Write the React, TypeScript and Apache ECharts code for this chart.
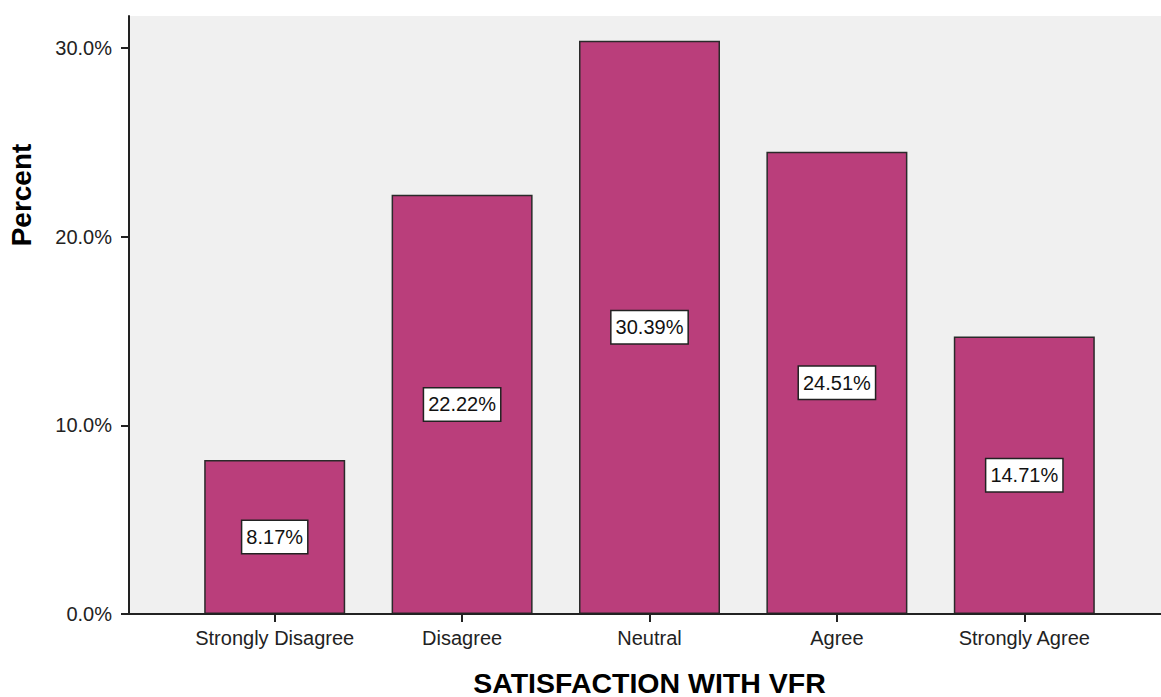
import React, { useEffect, useRef } from "react";
import * as echarts from "echarts";

const categories = ["Strongly Disagree", "Disagree", "Neutral", "Agree", "Strongly Agree"];
const percents = [8.17, 22.22, 30.39, 24.51, 14.71];
const yTicks = [0, 10, 20, 30];

const FONT = "'Liberation Sans', Arial, sans-serif";

export default function App() {
  const ref = useRef<HTMLDivElement>(null);
  useEffect(() => {
    if (!ref.current) return;
    const chart = echarts.init(ref.current, null, { renderer: "svg" });
    chart.setOption({
      animation: false,
      backgroundColor: "#ffffff",
      grid: { left: 181, right: 43, top: 16, bottom: 83, outerBoundsMode: "none", containLabel: false },
      graphic: [
        {
          type: "rect",
          z: -10,
          shape: { x: 129, y: 16, width: 1032, height: 598 },
          style: { fill: "#f0f0f0" },
          silent: true,
        },
        {
          type: "line",
          z: 50,
          shape: { x1: 128, y1: 614, x2: 1161, y2: 614 },
          style: { stroke: "#222", lineWidth: 2 },
          silent: true,
        },
        {
          type: "text",
          x: 21,
          y: 195,
          rotation: Math.PI / 2,
          style: {
            text: "Percent",
            fontFamily: FONT,
            fontWeight: "bold",
            fontSize: 28,
            fill: "#000",
            textAlign: "center",
            textVerticalAlign: "middle",
          },
        },
      ],
      xAxis: {
        type: "category",
        data: categories,
        name: "SATISFACTION WITH VFR",
        nameLocation: "middle",
        nameGap: 54,
        nameTextStyle: { fontFamily: FONT, fontWeight: "bold", fontSize: 28.5, color: "#000" },
        axisLine: { show: false },
        axisTick: { show: true, alignWithLabel: true, length: 8, lineStyle: { color: "#222", width: 2 } },
        axisLabel: { interval: 0, fontFamily: FONT, fontSize: 20, color: "#222", margin: 14 },
      },
      yAxis: {
        type: "value",
        min: 0,
        max: 31.7,
        interval: 10,
        offset: 52,
        axisLine: { show: true, lineStyle: { color: "#222", width: 2 } },
        axisTick: { show: true, length: 8, customValues: yTicks, lineStyle: { color: "#222", width: 2 } },
        axisLabel: {
          customValues: yTicks,
          fontFamily: FONT,
          fontSize: 20,
          color: "#222",
          margin: 17,
          formatter: (v: number) => v.toFixed(1) + "%",
        },
        splitLine: { show: false },
      },
      series: [
        {
          type: "bar",
          data: percents,
          barWidth: 141,
          itemStyle: { color: "#ba3e7b", borderColor: "#2a2a2a", borderWidth: 1.5 },
          label: {
            show: true,
            position: "inside",
            formatter: (p: any) => p.value.toFixed(2) + "%",
            fontFamily: FONT,
            fontSize: 20,
            color: "#111",
            backgroundColor: "#ffffff",
            borderColor: "#222",
            borderWidth: 1.5,
            padding: [6, 4, 6, 4],
          },
        },
      ],
    });
    return () => chart.dispose();
  }, []);
  return (
    <div
      ref={ref}
      style={{ position: "fixed", left: 0, top: 0, width: 1161, height: 697 }}
    />
  );
}
